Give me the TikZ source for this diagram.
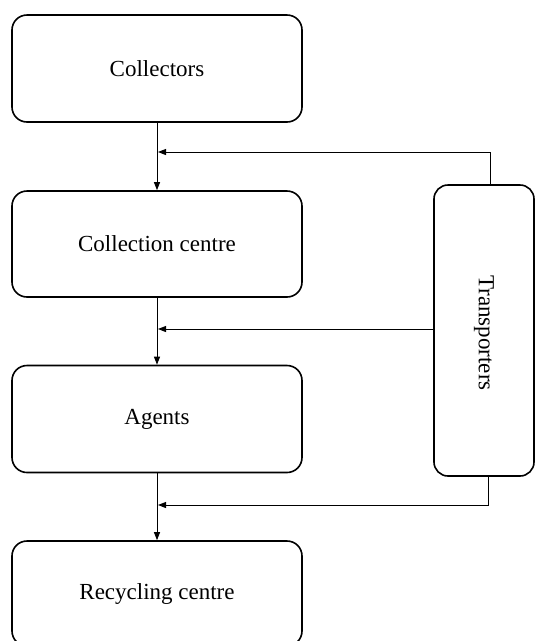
\documentclass[tikz,border=0pt]{standalone}
\usepackage{fontspec}
\setmainfont{Liberation Serif}
\usetikzlibrary{arrows.meta,calc}
\begin{document}
\begin{tikzpicture}[x=1pt,y=-1pt,
  procbox/.style={draw=black,line width=1.6pt,rounded corners=15pt,minimum width=290pt,inner sep=0pt,font=\fontsize{23}{26}\selectfont},
  conn/.style={draw=black,line width=1pt},
  arr/.style={conn,-{Triangle[length=8pt,width=6pt]}}]
\useasboundingbox (0,0) rectangle (535,641);
\clip (0,0) rectangle (535,641);
\node[procbox,minimum height=107pt] (col) at (157,68.5) {Collectors};
\node[procbox,minimum height=106pt] (cc) at (157,244) {Collection centre};
\node[procbox,minimum height=107pt] (ag) at (157,419) {Agents};
\node[procbox,minimum height=105pt] (rc) at (157,593.5) {Recycling centre};
\node[procbox,minimum width=100pt,minimum height=291pt,rounded corners=14pt] (tr) at (484,330.5) {};
\node[font=\fontsize{23}{26}\selectfont,rotate=-90] (trl) at (484,333) {Transporters};
\draw[arr] (col.south) -- (cc.north);
\draw[arr] (cc.south) -- (ag.north);
\draw[arr] (ag.south) -- (rc.north);
\coordinate (t1) at ($(tr.north)+(6,0)$);
\coordinate (j1) at (158,152);
\coordinate (j2) at (158,329);
\coordinate (t3) at ($(tr.south)+(4,0)$);
\coordinate (j3) at (158,505);
\draw[arr] (t1) |- (j1);
\draw[arr] (tr.west |- j2) -- (j2);
\draw[arr] (t3) |- (j3);
\end{tikzpicture}
\end{document}
